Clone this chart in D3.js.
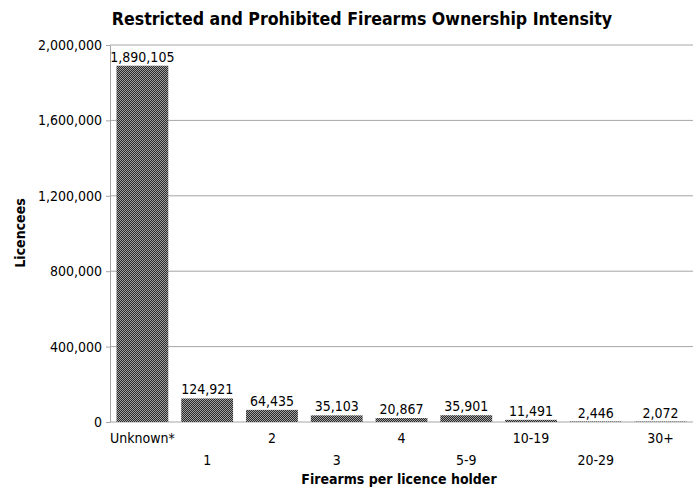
<!DOCTYPE html>
<html>
<head>
<meta charset="utf-8">
<script src="https://cdn.jsdelivr.net/npm/d3@7"></script>
<style>
  body { margin: 0; background: #fff; }
  text { font-family: "DejaVu Sans Condensed", "DejaVu Sans", sans-serif; fill: #000; }
</style>
</head>
<body>
<div id="chart"></div>
<script>
// chart data
var categories = ["Unknown*", "1", "2", "3", "4", "5-9", "10-19", "20-29", "30+"];
var licencees = [1890105, 124921, 64435, 35103, 20867, 35901, 11491, 2446, 2072];
var yTicks = [0, 400000, 800000, 1200000, 1600000, 2000000];

var svgWidth = 697;
var svgHeight = 489;

var margin = { top: 45, right: 4, bottom: 67, left: 110 };
var width = svgWidth - margin.left - margin.right;
var height = svgHeight - margin.top - margin.bottom;

var svg = d3.select("#chart").append("svg")
    .attr("width", svgWidth)
    .attr("height", svgHeight);

// checker pattern for the bars
var defs = svg.append("defs");
var pat = defs.append("pattern")
    .attr("id", "checker")
    .attr("width", 2).attr("height", 2)
    .attr("patternUnits", "userSpaceOnUse");
pat.append("rect").attr("width", 2).attr("height", 2).attr("fill", "#a0a0a0");
pat.append("rect").attr("width", 1).attr("height", 1).attr("fill", "#2a2a2a");
pat.append("rect").attr("x", 1).attr("y", 1).attr("width", 1).attr("height", 1).attr("fill", "#2a2a2a");

var g = svg.append("g")
    .attr("transform", `translate(${margin.left}, ${margin.top})`);

var x = d3.scaleBand()
    .domain(categories)
    .range([0, width])
    .paddingInner(0.2)
    .paddingOuter(0.1);

var y = d3.scaleLinear()
    .domain([0, 2000000])
    .range([height, 0]);

// gridlines
g.selectAll(".grid")
    .data(yTicks)
    .enter().append("line")
    .attr("x1", 0).attr("x2", width)
    .attr("y1", d => y(d)).attr("y2", d => y(d))
    .attr("stroke", "#a6a6a6")
    .attr("stroke-width", 1);

// y axis
var leftAxis = d3.axisLeft(y)
    .tickValues(yTicks)
    .tickFormat(d3.format(","))
    .tickSize(4)
    .tickPadding(4);

var yAxisG = g.append("g").call(leftAxis);
yAxisG.select(".domain").attr("stroke", "#a6a6a6");
yAxisG.selectAll(".tick line").attr("stroke", "#a6a6a6");
yAxisG.selectAll("text").style("font-size", "14px").attr("fill", "#000");

// bars
g.selectAll(".bar")
    .data(licencees)
    .enter().append("rect")
    .attr("x", (d, i) => x(categories[i]))
    .attr("y", d => y(d))
    .attr("width", x.bandwidth())
    .attr("height", d => height - y(d))
    .attr("fill", "url(#checker)");

// value labels
g.selectAll(".val")
    .data(licencees)
    .enter().append("text")
    .attr("x", (d, i) => x(categories[i]) + x.bandwidth() / 2)
    .attr("y", d => y(d) - 4)
    .attr("text-anchor", "middle")
    .style("font-size", "14px")
    .text(d => d3.format(",")(d));

// category labels, staggered on two rows
g.selectAll(".cat")
    .data(categories)
    .enter().append("text")
    .attr("x", d => x(d) + x.bandwidth() / 2)
    .attr("y", (d, i) => height + (i % 2 == 0 ? 21 : 43))
    .attr("text-anchor", "middle")
    .style("font-size", "14px")
    .text(d => d);

// titles
svg.append("text")
    .attr("x", 362)
    .attr("y", 25)
    .attr("text-anchor", "middle")
    .style("font-size", "17.6px")
    .style("font-weight", "bold")
    .text("Restricted and Prohibited Firearms Ownership Intensity");

svg.append("text")
    .attr("x", 399)
    .attr("y", 484)
    .attr("text-anchor", "middle")
    .style("font-size", "14px")
    .style("font-weight", "bold")
    .text("Firearms per licence holder");

svg.append("text")
    .attr("transform", "translate(25, 233) rotate(-90)")
    .attr("text-anchor", "middle")
    .style("font-size", "14px")
    .style("font-weight", "bold")
    .text("Licencees");
</script>
</body>
</html>
